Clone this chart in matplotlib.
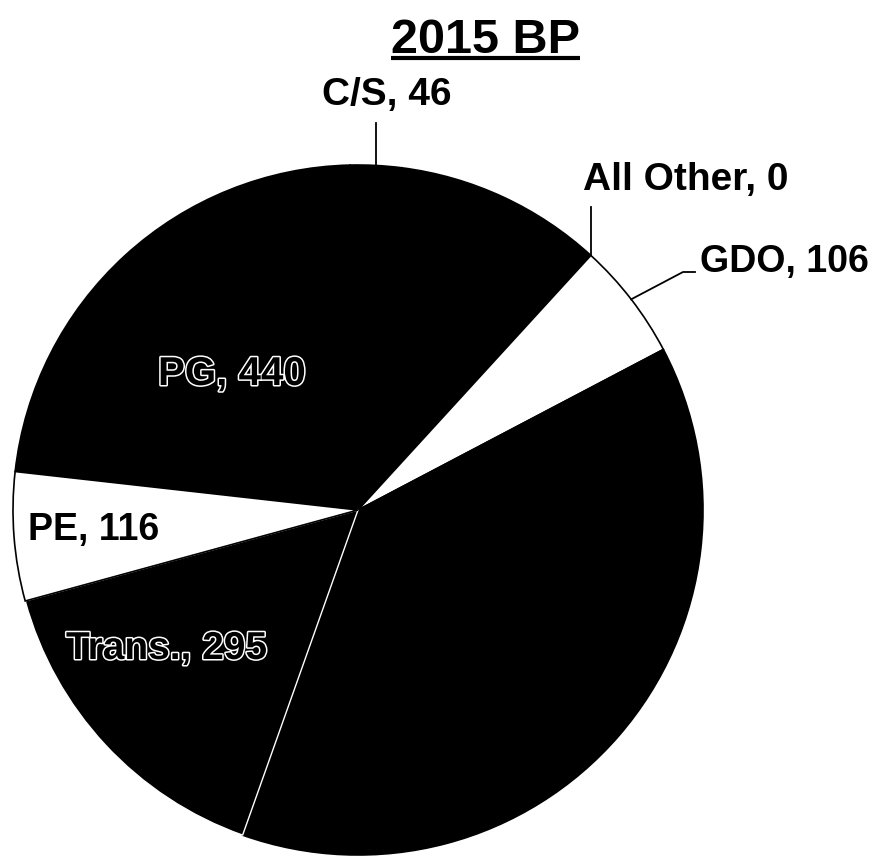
import numpy as np
import matplotlib
matplotlib.use("Agg")
import matplotlib.pyplot as plt
import matplotlib.patheffects as pe

W, H = 878, 865

# slices in clockwise order, starting at the PE/PG boundary
labels = ["PG, 440", "C/S, 46", "", "All Other, 0", "GDO, 106", "", "Trans., 295", "PE, 116"]
values = [440, 46, 188, 0, 106, 734, 295, 116]
colors = ["black", "black", "black", "white", "white", "black", "black", "white"]

fig = plt.figure(figsize=(W / 100, H / 100), dpi=100)
ax = fig.add_axes([0, 0, 1, 1])

cx, cy, r = 358, H - 510, 345
wedges, _ = ax.pie(
    values,
    colors=colors,
    center=(cx, cy),
    radius=r,
    startangle=173.6,
    counterclock=False,
    wedgeprops=dict(edgecolor="black", linewidth=1.2),
)
# thin white seam between the two big dark slices
wedges[6].set_edgecolor("white")
wedges[6].set_linewidth(1.0)

ax.set_xlim(0, W)
ax.set_ylim(0, H)
ax.set_aspect("equal")
ax.axis("off")

font = ["Liberation Sans", "DejaVu Sans"]


def arc_point(theta):
    t = np.deg2rad(theta)
    return cx + r * np.cos(t), cy + r * np.sin(t)


# title with underline
title = ax.text(486, H - 53, "2015 BP", ha="center", va="baseline",
                fontsize=35, fontweight="bold", family=font)
fig.canvas.draw()
bb = title.get_window_extent().transformed(ax.transData.inverted())
ax.plot([bb.x0, bb.x1], [H - 58, H - 58], color="black", lw=3, solid_capstyle="butt")

# outside labels
ax.text(387, H - 105, labels[1], ha="center", va="baseline",
        fontsize=28, fontweight="bold", family=font)
w = wedges[1]
x, y = arc_point((w.theta1 + w.theta2) / 2)
ax.plot([x, x], [y, H - 123], color="black", lw=1.3)

ax.text(686, H - 190, labels[3], ha="center", va="baseline",
        fontsize=28, fontweight="bold", family=font)
x, y = arc_point(wedges[3].theta1)
ax.plot([x, x], [y, H - 207], color="black", lw=1.3)

ax.text(700, H - 272, labels[4], ha="left", va="baseline",
        fontsize=27, fontweight="bold", family=font)
w = wedges[4]
x, y = arc_point((w.theta1 + w.theta2) / 2)
ax.plot([x, 683, 695], [y, H - 272, H - 272], color="black", lw=1.3)

# labels inside the slices
ax.text(28, H - 540, labels[7], ha="left", va="baseline",
        fontsize=27, fontweight="bold", family=font)

outline = [pe.withStroke(linewidth=2.2, foreground="white")]
ax.text(158, H - 385, labels[0], ha="left", va="baseline", color="black",
        fontsize=29, fontweight="bold", family=font, path_effects=outline)
ax.text(66, H - 659, labels[6], ha="left", va="baseline", color="black",
        fontsize=28, fontweight="bold", family=font, path_effects=outline)

fig.savefig("out.png", dpi=100, facecolor="white")
